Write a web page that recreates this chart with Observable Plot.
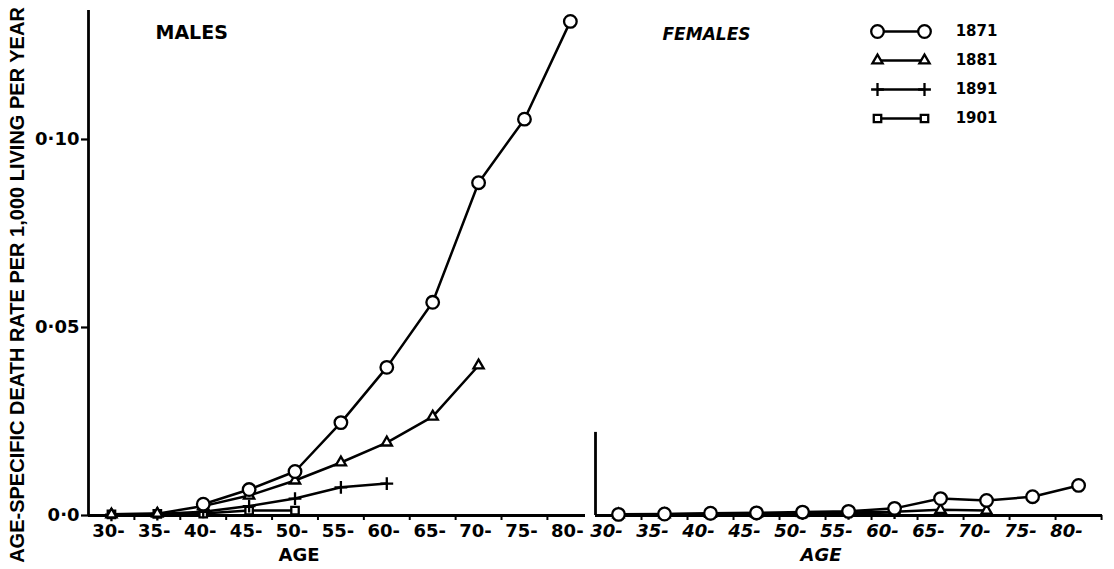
<!DOCTYPE html>
<html>
<head>
<meta charset="utf-8">
<script src="https://cdn.jsdelivr.net/npm/d3@7"></script>
<script src="https://cdn.jsdelivr.net/npm/@observablehq/plot@0.6"></script>
<style>
  html, body { margin: 0; padding: 0; background: #fff; }
  #wrap { position: relative; width: 1114px; height: 569px; overflow: hidden; background: #fff; }
  #wrap svg { position: absolute; }
</style>
</head>
<body>
<div id="wrap"></div>
<script>
// ---- data ----
const ageGroups = ["30-","35-","40-","45-","50-","55-","60-","65-","70-","75-","80-"];
const years = ["1871","1881","1891","1901"];
const yTickValues = [0, 0.05, 0.10];
const yTickLabels = ["0·0","0·05","0·10"];
const yLabel = "AGE-SPECIFIC DEATH RATE PER 1,000 LIVING PER YEAR";
const xLabel = "AGE";
const panelMales = "MALES";
const panelFemales = "FEMALES";

const males1871 = [null, null, 0.0030, 0.0069, 0.0117, 0.0247, 0.0394, 0.0567, 0.0885, 0.1054, 0.1314];
const males1881 = [0.0003, 0.0005, 0.0025, 0.0053, 0.0093, 0.0141, 0.0194, 0.0263, 0.0399, null, null];
const males1891 = [0.0002, 0.0004, 0.0010, 0.0025, 0.0045, 0.0075, 0.0085, null, null, null, null];
const males1901 = [0.0003, 0.0004, 0.0005, 0.0013, 0.0013, null, null, null, null, null, null];

const females1871 = [0.0003, 0.0004, 0.0006, 0.0007, 0.0009, 0.0011, 0.0019, 0.0045, 0.0040, 0.0050, 0.0080];
const females1881 = [0.0003, 0.0003, 0.0004, 0.0005, 0.0006, 0.0008, 0.0010, 0.0015, 0.0013, null, null];
const females1891 = [0.0002, 0.0003, 0.0004, 0.0004, 0.0005, 0.0006, 0.0008, null, null, null, null];
const females1901 = [0.0002, 0.0003, 0.0003, 0.0004, 0.0005, null, null, null, null, null, null];

const symbols = {"1871": "circle", "1881": "triangle", "1891": "plus", "1901": "square"};
const radii = {"1871": 6.3, "1881": 3.8, "1891": 4.2, "1901": 4.2};

function rows(seriesByYear) {
  const out = [];
  years.forEach((yr, k) => {
    seriesByYear[k].forEach((v, i) => {
      if (v != null) out.push({i, age: ageGroups[i], year: yr, value: v});
    });
  });
  return out;
}
const maleRows = rows([males1871, males1881, males1891, males1901]);
const femaleRows = rows([females1871, females1881, females1891, females1901]);

const idx = ageGroups.map((_, i) => i);
const bounds = ageGroups.map((_, i) => i + 0.5);
const yMax = 0.1343;
const femaleAxisTop = 0.0221;

function seriesMarks(data) {
  const m = [Plot.line(data, {x: "i", y: "value", z: "year", stroke: "black", strokeWidth: 2.5})];
  years.slice().reverse().forEach(yr => {
    m.push(Plot.dot(data.filter(d => d.year === yr), {
      x: "i", y: "value", symbol: () => symbols[yr], r: radii[yr],
      fill: "white", stroke: "black", strokeWidth: 2.3
    }));
  });
  return m;
}

const baseStyle = {fontFamily: "DejaVu Sans", fontWeight: "bold", color: "black", background: "transparent", overflow: "visible"};

// ---- males ----
const left = Plot.plot({
  width: 590, height: 569,
  marginLeft: 88, marginRight: 5, marginTop: 10, marginBottom: 54,
  x: {domain: [-0.5, 10.33]},
  y: {domain: [0, yMax]},
  symbol: {type: "identity"},
  style: {...baseStyle, fontSize: "18px"},
  marks: [
    Plot.axisY({ticks: yTickValues, tickFormat: d => yTickLabels[yTickValues.indexOf(d)], tickSize: 7, tickPadding: 2, strokeWidth: 2.2, fontSize: 18, label: null}),
    Plot.axisX({ticks: bounds.filter(b => b < 10.33), tickSize: 5, tickFormat: () => "", strokeWidth: 2, label: null}),
    Plot.axisX({ticks: idx, tickSize: 0, tickPadding: 9, tickFormat: i => ageGroups[i], dx: -3, fontSize: 18, label: null}),
    Plot.ruleX([-0.5], {stroke: "black", strokeWidth: 2.8}),
    Plot.ruleY([0], {stroke: "black", strokeWidth: 2.8}),
    Plot.text([xLabel], {frameAnchor: "bottom", dx: -38, dy: 45, fontSize: 18}),
    Plot.text([panelMales], {frameAnchor: "top-left", textAnchor: "start", dx: 67, dy: 15, fontSize: 19, letterSpacing: "2px"}),
    ...seriesMarks(maleRows)
  ]
});
left.style.left = "0px"; left.style.top = "0px";

d3.select(left).append("text")
  .attr("transform", "translate(24,285) rotate(-90)")
  .attr("text-anchor", "middle")
  .attr("font-family", "Liberation Sans")
  .attr("font-size", 20)
  .attr("font-weight", "bold")
  .attr("fill", "black")
  .text(yLabel);

// ---- females ----
const right = Plot.plot({
  width: 524, height: 569,
  marginLeft: 5, marginRight: 12, marginTop: 10, marginBottom: 54,
  x: {domain: [-0.5, 10.52]},
  y: {domain: [0, yMax], axis: null},
  style: {...baseStyle, fontSize: "18px", fontStyle: "italic"},
  marks: [
    Plot.axisX({ticks: bounds, tickSize: 5, tickFormat: () => "", strokeWidth: 2, label: null}),
    Plot.axisX({ticks: idx, tickSize: 0, tickPadding: 9, tickFormat: i => ageGroups[i], dx: -12, fontSize: 18, label: null}),
    Plot.ruleX([-0.5], {y1: 0, y2: femaleAxisTop, stroke: "black", strokeWidth: 2.8}),
    Plot.ruleY([0], {stroke: "black", strokeWidth: 2.8}),
    Plot.text([xLabel], {frameAnchor: "bottom", dx: -28, dy: 45, fontSize: 18}),
    Plot.text([panelFemales], {frameAnchor: "top-left", textAnchor: "start", dx: 67, dy: 17, fontSize: 17}),
    ...seriesMarks(femaleRows)
  ]
});
right.style.left = "590px"; right.style.top = "0px";

// ---- legend ----
const legendRows = years.map(yr => ({year: yr}));
const legend = Plot.plot({
  width: 150, height: 118,
  marginLeft: 17, marginRight: 86, marginTop: 15, marginBottom: 16,
  x: {domain: [0, 1], axis: null},
  y: {type: "point", domain: years, padding: 0, axis: null},
  style: {...baseStyle, fontSize: "15px"},
  marks: [
    Plot.ruleY(legendRows, {y: "year", x1: 0, x2: 1, stroke: "black", strokeWidth: 2.3}),
    ...years.map(yr => Plot.dot(legendRows.filter(d => d.year === yr), {
      x: 0, y: "year", symbol: () => symbols[yr], r: radii[yr],
      fill: "white", stroke: "black", strokeWidth: 2.3
    })),
    ...years.map(yr => Plot.dot(legendRows.filter(d => d.year === yr), {
      x: 1, y: "year", symbol: () => symbols[yr], r: radii[yr],
      fill: "white", stroke: "black", strokeWidth: 2.3
    })),
    Plot.text(legendRows, {x: 1, y: "year", text: "year", dx: 52, fontSize: 15})
  ]
});
legend.style.left = "860px"; legend.style.top = "16px";

const wrap = document.getElementById("wrap");
wrap.appendChild(left);
wrap.appendChild(right);
wrap.appendChild(legend);
</script>
</body>
</html>
